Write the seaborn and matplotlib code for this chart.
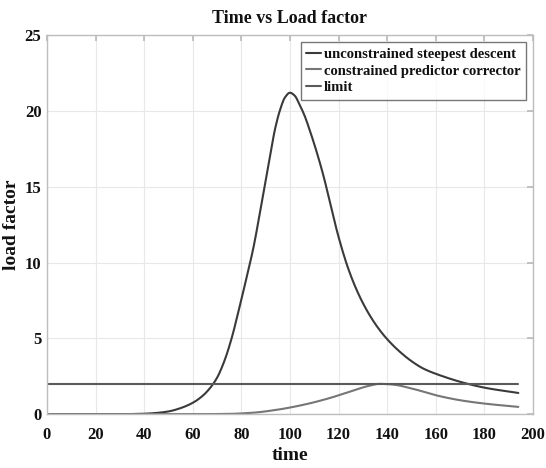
import numpy as np
import pandas as pd
import seaborn as sns
import matplotlib
matplotlib.use("Agg")
import matplotlib.pyplot as plt

# Load factor histories over time
t_unconstrained = [0, 30, 40, 45, 50, 55, 60, 64, 67, 70, 73, 76, 79, 82, 85, 88, 90, 92,
                   94, 96, 98, 100, 102, 104, 106, 108, 111, 114, 117, 120, 124, 128,
                   132, 136, 140, 145, 150, 155, 162, 172, 181, 194]
n_unconstrained = [0, 0, 0.03, 0.08, 0.18, 0.4, 0.75, 1.2, 1.7, 2.4, 3.5, 5.0, 6.9,
                   8.9, 11.0, 13.6, 15.4, 17.2, 18.9, 20.1, 20.9, 21.2, 21.0, 20.4, 19.7,
                   18.8, 17.3, 15.6, 13.6, 11.7, 9.6, 8.0, 6.75, 5.75, 4.95, 4.15,
                   3.5, 3.0, 2.55, 2.05, 1.72, 1.4]

t_constrained = [0, 60, 75, 85, 95, 105, 115, 125, 132, 137, 142, 150, 160, 170, 180, 194]
n_constrained = [0, 0, 0.02, 0.1, 0.3, 0.6, 1.0, 1.5, 1.85, 2.0, 1.96, 1.7, 1.25, 0.92,
                 0.7, 0.48]

t_limit = [0, 194]
n_limit = [2, 2]

series_names = ["unconstrained steepest descent", "constrained predictor corrector", "limit"]
series_colors = ["#3a3a3a", "#767676", "#5a5a5a"]

x_ticks = [0, 20, 40, 60, 80, 100, 120, 140, 160, 180, 200]
y_ticks = [0, 5, 10, 15, 20, 25]


def smooth(t, n, num=600):
    # monotone cubic (Fritsch-Carlson) trace through the sampled points
    t = np.asarray(t, float)
    n = np.asarray(n, float)
    h = np.diff(t)
    d = np.diff(n) / h
    m = np.zeros_like(n)
    m[0], m[-1] = d[0], d[-1]
    for i in range(1, len(n) - 1):
        if d[i - 1] * d[i] <= 0:
            m[i] = 0
        else:
            w1 = 2 * h[i] + h[i - 1]
            w2 = h[i] + 2 * h[i - 1]
            m[i] = (w1 + w2) / (w1 / d[i - 1] + w2 / d[i])
    ts = np.linspace(t[0], t[-1], num)
    idx = np.clip(np.searchsorted(t, ts) - 1, 0, len(t) - 2)
    hh = h[idx]
    s = (ts - t[idx]) / hh
    h00 = 2 * s**3 - 3 * s**2 + 1
    h10 = s**3 - 2 * s**2 + s
    h01 = -2 * s**3 + 3 * s**2
    h11 = s**3 - s**2
    ys = h00 * n[idx] + h10 * hh * m[idx] + h01 * n[idx + 1] + h11 * hh * m[idx + 1]
    return ts, ys


frames = []
for name, (t, n) in zip(series_names, [(t_unconstrained, n_unconstrained),
                                        (t_constrained, n_constrained),
                                        (t_limit, n_limit)]):
    ts, ys = smooth(t, n) if len(t) > 2 else (np.asarray(t, float), np.asarray(n, float))
    frames.append(pd.DataFrame({"time": ts, "load factor": ys, "series": name}))
df = pd.concat(frames, ignore_index=True)

sns.set_theme(style="whitegrid")
plt.rcParams["font.family"] = ["Liberation Serif", "DejaVu Serif"]
plt.rcParams["font.weight"] = "bold"

fig = plt.figure(figsize=(5.46, 4.68), dpi=100)
ax = fig.add_axes([0.086, 0.115, 0.890, 0.810])

sns.lineplot(data=df, x="time", y="load factor", hue="series",
             hue_order=series_names, palette=series_colors, sort=False,
             linewidth=1.5, ax=ax, legend=True)

ax.set_xlim(0, 200)
ax.set_ylim(0, 25)
ax.set_xticks(x_ticks)
ax.set_yticks(y_ticks)
ax.set_xticklabels([str(v) for v in x_ticks], fontsize=12, fontweight="bold")
ax.set_yticklabels([str(v) for v in y_ticks], fontsize=12, fontweight="bold")
ax.tick_params(direction="in", length=4, color="#bbbbbb", top=True, right=True,
               labelcolor="#111111")
ax.tick_params(axis="x", pad=9)
ax.tick_params(axis="y", pad=4)
ax.grid(True, color="#e8e8e8", linewidth=0.8)
for sp in ax.spines.values():
    sp.set_color("#bdbdbd")
    sp.set_linewidth(1.0)

ax.set_title("Time vs Load factor", fontsize=13, fontweight="bold", pad=9, color="#111111")
ax.set_xlabel("time", fontsize=14, fontweight="bold", labelpad=3, color="#111111")
ax.set_ylabel("load factor", fontsize=14, fontweight="bold", labelpad=3, color="#111111")

leg = ax.legend(loc="upper right", fontsize=10.5, handlelength=1.0, handletextpad=0.2,
                borderpad=0.35, labelspacing=0.25, frameon=True, fancybox=False,
                borderaxespad=0.5, title=None)
leg.get_frame().set_edgecolor("#555555")
leg.get_frame().set_linewidth(1.0)
for txt in leg.get_texts():
    txt.set_fontweight("bold")
    txt.set_color("#111111")

fig.savefig("out.png", dpi=100)
